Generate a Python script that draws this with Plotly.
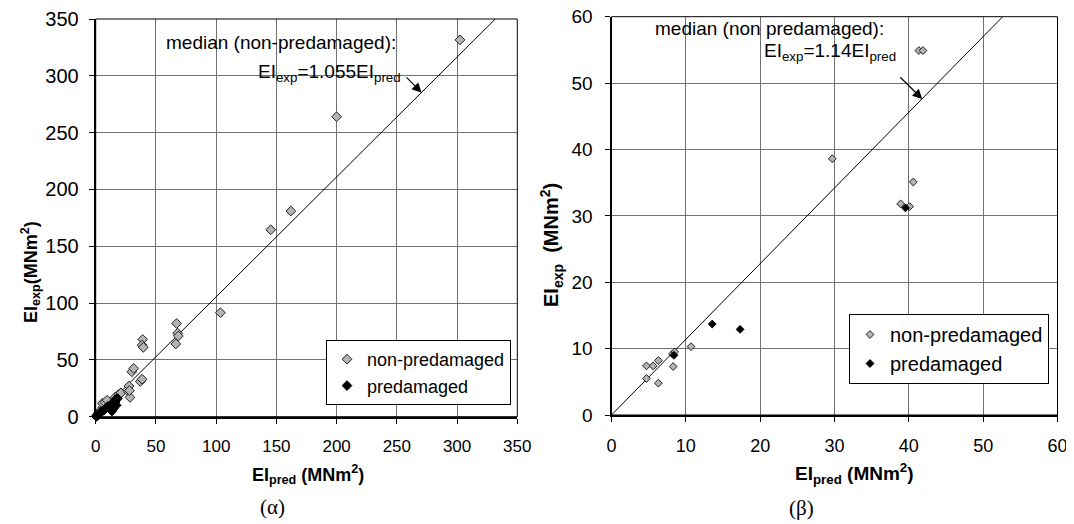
import plotly.graph_objects as go

# page body has an 8px default margin: the figure is sized / positioned to compensate
OFF = 8
W, H = 1074 - OFF, 524 - OFF

# ---------------- data: chart (α) ----------------
left_np_x = [0.8, 1.5, 2.5, 3.5, 4.5, 5.5, 6.5, 5.5, 7.7, 9.5, 16, 19, 21, 27, 27.6, 28.5, 28,
             30, 31.5, 37, 38.5, 39, 38.5, 39.5, 66.5, 67.2, 68, 68.6, 103.5, 145.3, 162, 200, 302.4]
left_np_y = [0.8, 2.0, 3.5, 4.5, 6.0, 7.5, 9.0, 11.8, 12.5, 14.5, 17, 19.5, 21, 22, 27, 17, 23,
             39.5, 42.5, 31, 33, 68, 63, 61, 64, 82, 73.5, 71, 91.5, 164.5, 181, 264, 331.6]
left_pd_x = [0.5, 1.5, 2.5, 3.5, 4.5, 5.5, 7, 8.5, 10, 13.5, 14.5, 15, 15.5, 16, 16.5, 17, 14, 18]
left_pd_y = [0.3, 1, 2, 3, 4, 5, 6, 7.5, 9, 5, 7, 9, 11, 13, 15, 10, 12, 16]
left_slope = 1.055
left_max = 350
left_ticks = [0, 50, 100, 150, 200, 250, 300, 350]

# ---------------- data: chart (β) ----------------
right_np_x = [4.7, 4.7, 5.6, 6.3, 6.3, 8.3, 8.2, 8.5, 10.7, 29.7, 38.9, 40.1, 40.6, 41.35, 41.9]
right_np_y = [7.4, 5.5, 7.4, 8.2, 4.8, 7.3, 9.2, 9.5, 10.3, 38.6, 31.8, 31.4, 35.1, 54.9, 54.9]
right_pd_x = [8.4, 13.55, 17.3, 39.55]
right_pd_y = [9.0, 13.7, 12.9, 31.2]
right_slope = 1.14
right_max = 60
right_ticks = [0, 10, 20, 30, 40, 50, 60]

FONT = "Liberation Sans, Arial, sans-serif"
SERIF = "Liberation Serif, Times New Roman, serif"
GRAY_FILL = "#b4b4b4"
GRID = "#707070"


def px_x(p):
    return (p - OFF) / W


def px_y(p):
    return 1 - (p - OFF) / H


fig = go.Figure()

# chart α
fig.add_trace(go.Scatter(x=[0, left_max / left_slope], y=[0, left_max], mode="lines",
                         line=dict(color="black", width=1), showlegend=False,
                         xaxis="x", yaxis="y", hoverinfo="skip"))
fig.add_trace(go.Scatter(x=left_np_x, y=left_np_y, mode="markers", name="non-predamaged",
                         marker=dict(symbol="diamond", size=7.5, color=GRAY_FILL,
                                     line=dict(color="#202020", width=1)),
                         xaxis="x", yaxis="y", cliponaxis=False, legend="legend"))
fig.add_trace(go.Scatter(x=left_pd_x, y=left_pd_y, mode="markers", name="predamaged",
                         marker=dict(symbol="diamond", size=7.5, color="black",
                                     line=dict(color="black", width=1)),
                         xaxis="x", yaxis="y", cliponaxis=False, legend="legend"))

# chart β
fig.add_trace(go.Scatter(x=[0, right_max / right_slope], y=[0, right_max], mode="lines",
                         line=dict(color="black", width=1), showlegend=False,
                         xaxis="x2", yaxis="y2", hoverinfo="skip"))
fig.add_trace(go.Scatter(x=right_np_x, y=right_np_y, mode="markers", name="non-predamaged",
                         marker=dict(symbol="diamond", size=6, color=GRAY_FILL,
                                     line=dict(color="#202020", width=1)),
                         xaxis="x2", yaxis="y2", cliponaxis=False, legend="legend2"))
fig.add_trace(go.Scatter(x=right_pd_x, y=right_pd_y, mode="markers", name="predamaged",
                         marker=dict(symbol="diamond", size=6, color="black",
                                     line=dict(color="black", width=1)),
                         xaxis="x2", yaxis="y2", cliponaxis=False, legend="legend2"))


def axis(domain, rng, ticks, anchor, fsize, standoff):
    return dict(domain=domain, range=rng, tickvals=ticks, ticktext=[str(t) for t in ticks],
                showgrid=True, gridcolor=GRID, gridwidth=1, zeroline=False,
                showline=True, linecolor="black", linewidth=2, mirror=False,
                ticks="outside", ticklen=5, tickwidth=1, tickcolor="black",
                tickfont=dict(family=FONT, size=fsize, color="black"),
                anchor=anchor, fixedrange=True, ticklabelstandoff=standoff,
                automargin=False, ticklabeloverflow="allow")


L_x = [px_x(95.7), px_x(517.3)]
L_y = [px_y(416.7), px_y(19)]
R_x = [px_x(611.5), px_x(1057.5)]
R_y = [px_y(415), px_y(16.7)]

fig.update_layout(
    width=W, height=H, autosize=False,
    margin=dict(l=0, r=0, t=0, b=0, autoexpand=False),
    paper_bgcolor="white", plot_bgcolor="white",
    font=dict(family=FONT, color="black"),
    xaxis=axis(L_x, [0, left_max], left_ticks, "y", 17, 8),
    yaxis=axis(L_y, [0, left_max], left_ticks, "x", 20, 6),
    xaxis2=axis(R_x, [0, right_max], right_ticks, "y2", 18, 8),
    yaxis2=axis(R_y, [0, right_max], right_ticks, "x2", 19, 8),
    legend=dict(x=px_x(511), xanchor="right", y=px_y(405), yanchor="bottom",
                bgcolor="white", bordercolor="black", borderwidth=1,
                font=dict(family=FONT, size=18, color="black"), tracegroupgap=0),
    legend2=dict(x=px_x(1049), xanchor="right", y=px_y(384), yanchor="bottom",
                 bgcolor="white", bordercolor="black", borderwidth=1,
                 font=dict(family=FONT, size=20, color="black"), tracegroupgap=0),
    showlegend=True,
)

# thin box around plot areas (top/right)
for xr, yr in (("x domain", "y domain"), ("x2 domain", "y2 domain")):
    fig.add_shape(type="rect", xref=xr, yref=yr, x0=0, x1=1, y0=0, y1=1,
                  line=dict(color="black", width=1), layer="above")

ann = []


def text(px, py, s, size=17, xanchor="center", yanchor="middle", angle=0, family=FONT):
    ann.append(dict(x=px_x(px), y=px_y(py), xref="paper", yref="paper", text=s,
                    showarrow=False, xanchor=xanchor, yanchor=yanchor, textangle=angle,
                    font=dict(family=family, size=size, color="black")))


# axis titles
text(308, 474, "<b>EI<sub>pred</sub> (MNm<sup>2</sup>)</b>", 18)
text(30, 272, "<b>EI<sub>exp</sub>(MNm<sup>2</sup>)</b>", 18, angle=-90)
text(854, 473, "<b>EI<sub>pred</sub> (MNm<sup>2</sup>)</b>", 19)
text(552, 245, "<b>EI<sub>exp</sub>\u00a0\u00a0(MNm<sup>2</sup>)</b>", 20, angle=-90)
text(272, 507, "(α)", 21, family=SERIF)
text(801, 508, "(β)", 21, family=SERIF)

# median annotations
text(398, 42, "median (non-predamaged):", 19, xanchor="right")
text(403, 73, "EI<sub>exp</sub>=1.055EI<sub>pred</sub>", 19, xanchor="right")
text(653, 29, "median (non predamaged):", 19, xanchor="left")
text(898, 52, "EI<sub>exp</sub>=1.14EI<sub>pred</sub>", 19, xanchor="right")

# arrows
ann.append(dict(x=270.6, y=285.2, ax=256.8, ay=299.9, xref="x", yref="y", axref="x", ayref="y",
                text="", showarrow=True, arrowhead=2, arrowsize=1.6, arrowwidth=1.2,
                arrowcolor="black"))
ann.append(dict(x=41.8, y=47.6, ax=38.65, ay=51.1, xref="x2", yref="y2", axref="x2", ayref="y2",
                text="", showarrow=True, arrowhead=2, arrowsize=1.6, arrowwidth=1.2,
                arrowcolor="black"))

fig.update_layout(annotations=ann)
fig.write_html("out.html")
